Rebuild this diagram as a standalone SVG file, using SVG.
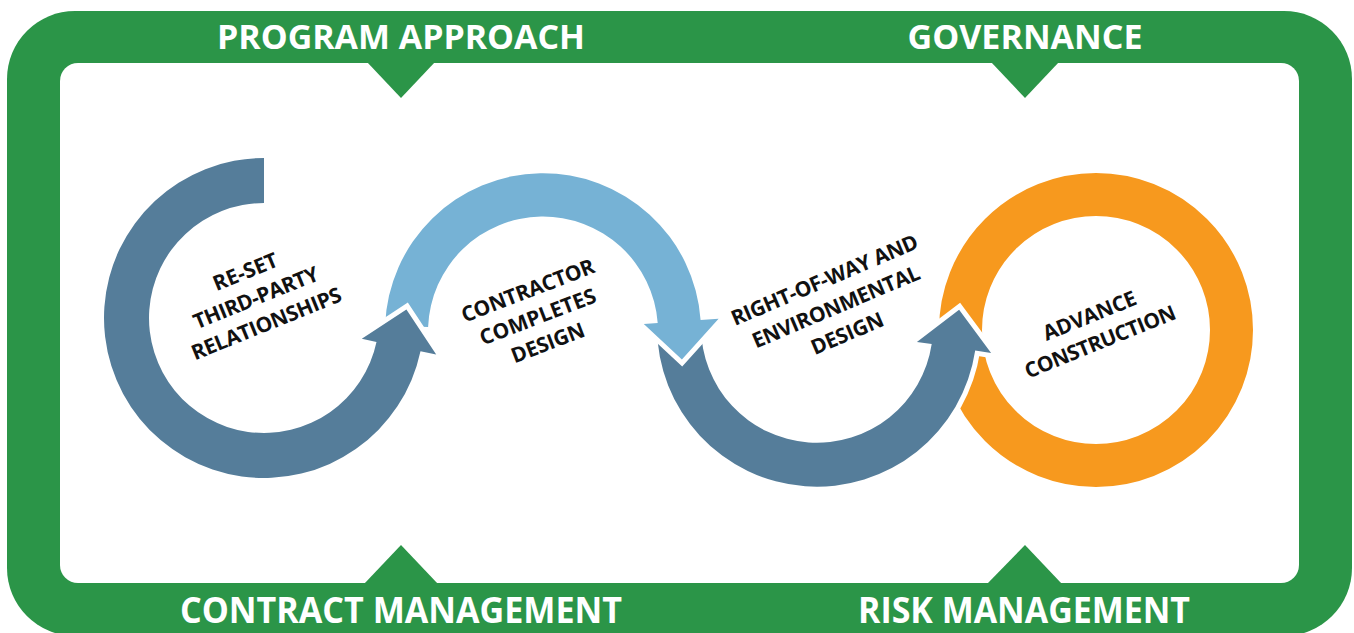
<svg xmlns="http://www.w3.org/2000/svg" width="1354" height="633" viewBox="0 0 1354 633">
<style>
.green{fill:#2B9548}
.title{font-family:"Open Sans","Liberation Sans",sans-serif;font-weight:700;font-size:34px;fill:#fff;text-anchor:middle}
.lbl{font-family:"Open Sans","Liberation Sans",sans-serif;font-weight:700;font-size:21px;fill:#111;text-anchor:middle}
.arrow{stroke:#fff;stroke-width:10;stroke-linejoin:miter;stroke-miterlimit:10;paint-order:stroke}
.dark{fill:#557D9A}
.light{fill:#76B2D5}
</style>
<rect width="1354" height="633" fill="#fff"/>
<g id="frame">
<rect x="7" y="11" width="1345" height="625" rx="68" class="green"/>
<rect x="60" y="63" width="1239" height="520" rx="18" fill="#fff"/>
<polygon class="green" points="367,62 435,62 401,98"/>
<polygon class="green" points="991,62 1059,62 1025,98"/>
<polygon class="green" points="364,584 438,584 401,545"/>
<polygon class="green" points="987,584 1062,584 1025,545"/>
<text class="title" x="401" y="49" textLength="368" lengthAdjust="spacingAndGlyphs">PROGRAM APPROACH</text>
<text class="title" x="1025" y="49" textLength="235" lengthAdjust="spacingAndGlyphs">GOVERNANCE</text>
<text class="title" x="401" y="623" style="font-size:36px" textLength="442" lengthAdjust="spacingAndGlyphs">CONTRACT MANAGEMENT</text>
<text class="title" x="1024" y="623" style="font-size:36px" textLength="332" lengthAdjust="spacingAndGlyphs">RISK MANAGEMENT</text>
</g>
<g id="node-advance-construction">
<circle cx="1096" cy="330" r="135.5" fill="none" stroke="#F7991E" stroke-width="43"/>
</g>
<g id="connectors">
<path id="arrow-row" class="arrow dark" d="M657,327 A160,160 0 0 0 975.2,350.6 L991.1,353.0 L959.1,309.8 L916.9,341.9 L931.7,344.1 A116,116 0 0 1 701,327 Z"/>
<path id="arrow-contractor" class="arrow light" d="M385.1,325.5 A158,158 0 0 1 700.6,320.0 L718.6,318.7 L681.9,359.4 L643.8,324.0 L657.7,323.0 A115,115 0 0 0 428.1,327.0 Z"/>
<path id="arrow-reset" class="arrow dark" d="M264,158 A160,160 0 1 0 420.5,351.3 L436.2,354.6 L406.4,309.4 L361.8,338.8 L376.5,341.9 A115,115 0 1 1 264,203 Z"/>
</g>
<g id="node-reset" transform="translate(256,298) rotate(-22)">
<text class="lbl" x="0" y="-21" textLength="68">RE-SET</text>
<text class="lbl" x="0" y="7" textLength="133">THIRD-PARTY</text>
<text class="lbl" x="0" y="35" textLength="160">RELATIONSHIPS</text>
</g>
<g id="node-contractor" transform="translate(538,317) rotate(-21)">
<text class="lbl" x="0" y="-21" textLength="141">CONTRACTOR</text>
<text class="lbl" x="0" y="7" textLength="123">COMPLETES</text>
<text class="lbl" x="0" y="35" textLength="77">DESIGN</text>
</g>
<g id="node-row" transform="translate(836,307) rotate(-23)">
<text class="lbl" x="0" y="-22" textLength="201">RIGHT-OF-WAY AND</text>
<text class="lbl" x="0" y="7" textLength="180">ENVIRONMENTAL</text>
<text class="lbl" x="0" y="36" textLength="77">DESIGN</text>
</g>
<g id="node-advance-label" transform="translate(1095,329) rotate(-22)">
<text class="lbl" x="0" y="-7" textLength="99">ADVANCE</text>
<text class="lbl" x="0" y="21" textLength="161">CONSTRUCTION</text>
</g>
</svg>
